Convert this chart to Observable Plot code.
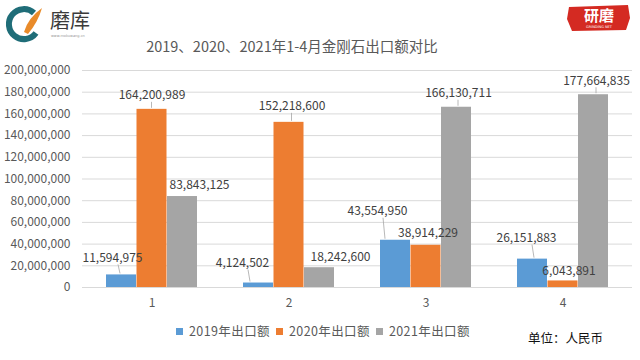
<!DOCTYPE html>
<html>
<head>
<meta charset="utf-8">
<script src="https://cdn.jsdelivr.net/npm/d3@7"></script>
<script src="https://cdn.jsdelivr.net/npm/@observablehq/plot@0.6"></script>
<style>
  html, body { margin: 0; padding: 0; background: #fff; }
  #wrap { position: relative; width: 640px; height: 360px; overflow: hidden;
          font-family: "Noto Sans CJK SC", "Noto Sans", sans-serif; }
  #title { position: absolute; left: 0; width: 584px; top: 36px; text-align: center;
           font-size: 14.5px; color: #595959; line-height: 20px; }
  #chart { position: absolute; left: 0; top: 55px; }
  #legend { position: absolute; left: 176px; top: 322px; font-size: 12.5px; color: #595959;
            display: flex; align-items: center; line-height: 18px; letter-spacing: 0.4px; }
  .sw { display: inline-block; width: 7px; height: 7px; margin-right: 6px; }
  .item { display: flex; align-items: center; margin-right: 6px; }
  #unit { position: absolute; left: 528px; top: 328px; font-size: 12.5px; color: #111; }
  #logoL { position: absolute; left: 4px; top: 4px; }
  #badge { position: absolute; left: 566px; top: 4px; width: 66px; height: 28px; }
</style>
</head>
<body>
<div id="wrap">
  <svg id="logoL" width="100" height="40" viewBox="0 0 100 40">
    <path d="M30 9 A15 15 0 1 0 32 29" fill="none" stroke="#1f6d78" stroke-width="6"/>
    <path d="M20 28 Q24 14 38 4 Q34 18 24 30 Z" fill="#e98b2a"/>
    <text x="46" y="24" font-size="20" fill="#3b3b3b" font-family="Noto Sans CJK SC">磨库</text>
    <text x="47" y="33" font-size="3.5" fill="#999" font-family="DejaVu Sans">www.mokuwang.cn</text>
  </svg>
  <svg id="badge" width="66" height="28" viewBox="0 0 66 28">
    <path d="M3 3 L62 1 L64 14 L60 26 L6 27 L1 15 Z" fill="#d42a22"/>
    <text x="33" y="17" text-anchor="middle" font-size="15" font-weight="bold" fill="#fff" font-family="Noto Sans CJK SC">研磨</text>
    <text x="33" y="24" text-anchor="middle" font-size="3.5" fill="#fff" font-family="DejaVu Sans">GRINDING NET</text>
  </svg>
  <div id="title">2019、2020、2021年1-4月金刚石出口额对比</div>
  <div id="chart"></div>
  <div id="legend"></div>
  <div id="unit">单位：人民币</div>
</div>
<script>
// ---- data ----
const categories = ["1", "2", "3", "4"];
const seriesNames = ["2019年出口额", "2020年出口额", "2021年出口额"];
const values2019 = [11594975, 4124502, 43554950, 26151883];
const values2020 = [164200989, 152218600, 38914229, 6043891];
const values2021 = [83843125, 18242600, 166130711, 177664835];
const yTicks = [0, 20000000, 40000000, 60000000, 80000000, 100000000, 120000000, 140000000, 160000000, 180000000, 200000000];

// ---- styling / layout ----
const colors = ["#5b9bd5", "#ed7d31", "#a5a5a5"];
const seriesDx = [-30.5, 0, 30.5];
const barInset = 53.5;
// label nudges [dx, dy] relative to bar top center, per series then category
const labelNudge = [
  [[-9, -17], [-16, -20], [-18, -29], [-6, -21]],
  [[0, -14], [3, -16], [2, -12], [6, -10]],
  [[17, -11], [21, -11], [2, -14], [3, -14]]
];
const leader = [
  [true, true, true, true],
  [true, true, false, false],
  [false, false, true, true]
];

const allValues = [values2019, values2020, values2021];
const rows = [];
seriesNames.forEach((s, j) => categories.forEach((c, i) => {
  rows.push({cat: c, series: s, si: j, ci: i, value: allValues[j][i]});
}));
const fmt = d3.format(",");

const marks = [];
marks.push(Plot.ruleY(yTicks, {stroke: "#d9d9d9", strokeWidth: 1}));
seriesNames.forEach((s, j) => {
  marks.push(Plot.barY(rows.filter(r => r.si === j), {
    x: "cat", y: "value", fill: colors[j], dx: seriesDx[j],
    insetLeft: barInset, insetRight: barInset
  }));
});
// leader lines
marks.push((index, scales) => {
  const g = d3.create("svg:g").attr("stroke", "#a6a6a6").attr("stroke-width", 0.8);
  const bw = scales.x.bandwidth ? scales.x.bandwidth() : 0;
  rows.forEach(r => {
    if (!leader[r.si][r.ci]) return;
    const [nx, ny] = labelNudge[r.si][r.ci];
    const bx = scales.x(r.cat) + bw / 2 + seriesDx[r.si];
    const by = scales.y(r.value);
    const lx = bx + nx, ly = by + ny + 7;
    const tx = Math.max(bx - 12, Math.min(bx + 12, lx + (nx < 0 ? 8 : 0)));
    g.append("line").attr("x1", lx + (nx < -5 ? 6 : 0)).attr("y1", ly).attr("x2", tx).attr("y2", by - 1);
  });
  return g.node();
});
rows.forEach(r => {
  const [nx, ny] = labelNudge[r.si][r.ci];
  marks.push(Plot.text([r], {
    x: "cat", y: "value", text: d => fmt(d.value),
    dx: seriesDx[r.si] + nx, dy: ny, fill: "#404040", fontSize: 12
  }));
});

const chart = Plot.plot({
  width: 640,
  height: 257,
  marginTop: 15,
  marginBottom: 25,
  marginLeft: 82,
  marginRight: 8,
  style: {fontSize: "12px", color: "#595959", fontFamily: "'Noto Sans CJK SC', 'Noto Sans', sans-serif", background: "transparent"},
  x: {domain: categories, padding: 0, tickSize: 0, tickPadding: 11, label: null},
  y: {domain: [0, 200000000], ticks: yTicks, tickFormat: fmt, tickSize: 0, tickPadding: 12, label: null},
  marks
});
document.getElementById("chart").appendChild(chart);

const legend = document.getElementById("legend");
seriesNames.forEach((s, j) => {
  const it = document.createElement("div");
  it.className = "item";
  it.innerHTML = `<span class="sw" style="background:${colors[j]}"></span><span>${s}</span>`;
  legend.appendChild(it);
});
</script>
</body>
</html>
